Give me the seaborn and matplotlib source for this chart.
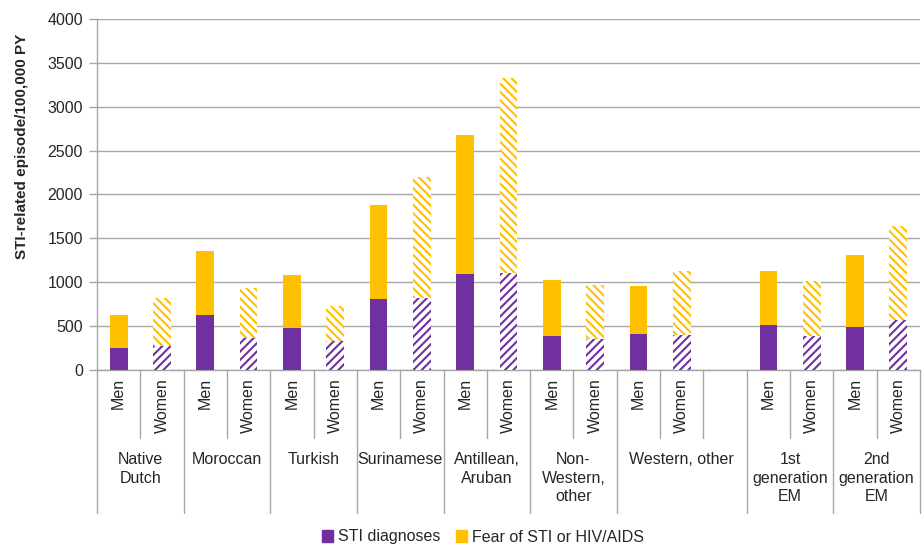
import numpy as np
import pandas as pd
import matplotlib
matplotlib.use('Agg')
import matplotlib.pyplot as plt
import matplotlib.transforms as mtransforms
from matplotlib.patches import Patch
import seaborn as sns

# data
groups = ['Native\nDutch', 'Moroccan', 'Turkish', 'Surinamese', 'Antillean,\nAruban',
          'Non-\nWestern,\nother', 'Western, other', '1st\ngeneration\nEM', '2nd\ngeneration\nEM']
sexes = ['Men', 'Women']
sti_diagnoses = [250, 273, 625, 367, 481, 330, 807, 822, 1095, 1110,
                 392, 354, 405, 395, 515, 390, 492, 565]
totals = [625, 820, 1352, 932, 1087, 727, 1886, 2197, 2678, 3333,
          1023, 974, 962, 1128, 1125, 1011, 1314, 1640]
# Western, other takes three slots (last one is empty)
group_slots = [2, 2, 2, 2, 2, 2, 3, 2, 2]

purple = '#7030A0'
gold = '#FFC000'
grey = '#A6A6A6'
fs = 11.5

sns.set_theme(style='white')
plt.rcParams['font.family'] = ['Liberation Sans', 'DejaVu Sans']
plt.rcParams['hatch.linewidth'] = 1.5

# build the slot table
slot_names = []
rows = []
k = 0
for g, n in zip(groups, group_slots):
    for j in range(n):
        name = f'{g}|{j}'
        slot_names.append(name)
        if j < 2:
            rows.append({'slot': name, 'group': g, 'sex': sexes[j],
                         'sti': sti_diagnoses[k], 'total': totals[k]})
            k += 1
df = pd.DataFrame(rows)

fig = plt.figure(figsize=(9.22, 5.47), dpi=100)
ax = fig.add_axes([97 / 922, 1 - 370 / 547, 823 / 922, 351 / 547])

sns.barplot(data=df, x='slot', y='total', order=slot_names, color=gold,
            width=0.41, saturation=1, ax=ax, zorder=2)
n_total = len(ax.patches)
sns.barplot(data=df, x='slot', y='sti', order=slot_names, color=purple,
            width=0.41, saturation=1, ax=ax, zorder=3)

women_slots = set(slot_names.index(s) for s in df.loc[df['sex'] == 'Women', 'slot'])
for i, p in enumerate(ax.patches):
    if p.get_height() == 0 or np.isnan(p.get_height()):
        continue
    xc = int(round(p.get_x() + p.get_width() / 2))
    col = gold if i < n_total else purple
    p.set_linewidth(0)
    if xc in women_slots:
        p.set_facecolor('white')
        p.set_edgecolor(col)
        p.set_hatch('\\\\\\\\' if col == gold else '////')
    else:
        p.set_facecolor(col)
        p.set_edgecolor(col)

ax.set_xlim(-0.5, len(slot_names) - 0.5)
ax.set_ylim(0, 4000)
ax.set_yticks(range(0, 4001, 500))
ax.tick_params(axis='y', which='major', length=6, width=1, color=grey,
               labelsize=fs, pad=4, left=True)
ax.yaxis.grid(True, color=grey, linewidth=1)
ax.set_axisbelow(True)
ax.set_xticks([])
ax.set_xlabel('')
ax.set_ylabel('')
for s in ['top', 'right']:
    ax.spines[s].set_visible(False)
for s in ['left', 'bottom']:
    ax.spines[s].set_color(grey)
    ax.spines[s].set_linewidth(1)

# two-level category axis
trans = mtransforms.blended_transform_factory(ax.transData, ax.transAxes)
short_y = -68 / 351
long_y = -143 / 351
boundaries = np.cumsum([0] + group_slots)
for b in range(len(slot_names) + 1):
    y_end = long_y if b in boundaries else short_y
    ax.plot([b - 0.5, b - 0.5], [0, y_end], color=grey, lw=1,
            transform=trans, clip_on=False)

for _, r in df.iterrows():
    xi = slot_names.index(r['slot'])
    ax.text(xi, -8 / 351, r['sex'], rotation=90, ha='center', va='top',
            fontsize=fs, transform=trans)

for g, start, n in zip(groups, boundaries[:-1], group_slots):
    xc = start + (n - 1) / 2
    ax.text(xc, -82 / 351, g, ha='center', va='top', fontsize=fs,
            linespacing=1.3, transform=trans)

fig.text(0.024, 0.733, 'STI-related episode/100,000 PY', rotation=90,
         ha='center', va='center', fontsize=11, fontweight='bold')

handles = [Patch(facecolor=purple, edgecolor=purple, label='STI diagnoses'),
           Patch(facecolor=gold, edgecolor=gold, label='Fear of STI or HIV/AIDS')]
fig.legend(handles=handles, loc='center', bbox_to_anchor=(483 / 922, 1 - 537 / 547),
           ncol=2, frameon=False, fontsize=fs, handlelength=0.7, handleheight=0.7,
           handletextpad=0.3, columnspacing=1.0, borderpad=0)

fig.savefig('out.png', dpi=100)
